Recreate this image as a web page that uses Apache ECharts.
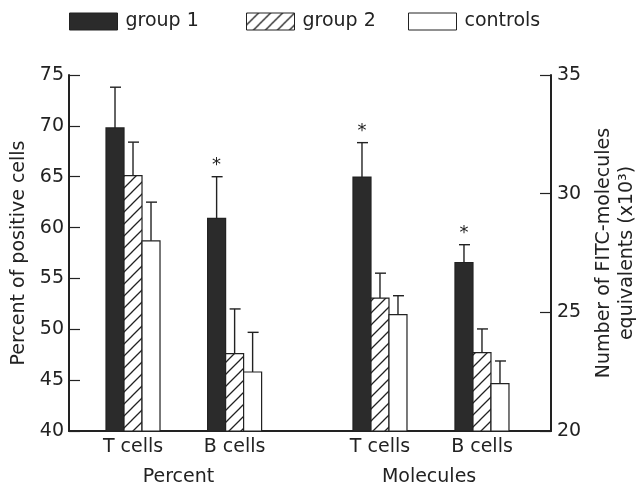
<!DOCTYPE html>
<html>
<head>
<meta charset="utf-8">
<script src="https://cdn.jsdelivr.net/npm/echarts@6/dist/echarts.min.js"></script>
<style>html,body{margin:0;padding:0;background:#fff}#c{width:638px;height:488px}</style>
</head>
<body>
<div id="c"></div>
<script>
// ---------------- data ----------------
const categories = ['T cells', 'B cells', 'T cells', 'B cells'];
const categoryPanel = [0, 0, 1, 1];            // 0 = Percent (left axis), 1 = Molecules (right axis)
const panels = ['Percent', 'Molecules'];
const groups = ['group 1', 'group 2', 'controls'];

const group1Mean = [69.8, 60.9, 30.7, 27.1];
const group1Sd   = [4.0, 4.1, 1.45, 0.75];
const group2Mean = [65.1, 47.6, 25.6, 23.3];
const group2Sd   = [3.3, 4.4, 1.05, 1.0];
const controlsMean = [58.7, 45.8, 24.9, 22.0];
const controlsSd   = [3.8, 3.9, 0.8, 0.95];
const group1Significant = [0, 1, 1, 1];
const group2Significant = [0, 0, 0, 0];
const controlsSignificant = [0, 0, 0, 0];

const leftTicks = { min: 40, max: 75, step: 5 };
const rightTicks = { min: 20, max: 35, step: 5 };

// ---------------- layout (not data) ----------------
const slotX = [13.28, 34.36, 64.52, 85.68];     // category centres on a 0..100 x scale
const panelX = [22.7, 74.7];
const BAR_W = 18;
const FONT = 'DejaVu Sans';
const INK = '#222';

function hatch() {
  const s = 12, cv = document.createElement('canvas');
  cv.width = s; cv.height = s;
  const ctx = cv.getContext('2d');
  ctx.fillStyle = '#fff'; ctx.fillRect(0, 0, s, s);
  ctx.strokeStyle = INK; ctx.lineWidth = 1.3;
  ctx.beginPath();
  ctx.moveTo(-2, s + 2); ctx.lineTo(s + 2, -2);
  ctx.moveTo(-2, 2); ctx.lineTo(2, -2);
  ctx.moveTo(s - 2, s + 2); ctx.lineTo(s + 2, s - 2);
  ctx.stroke();
  return { image: cv, repeat: 'repeat' };
}
const fills = ['#2b2b2b', hatch(), '#ffffff'];
const means = [group1Mean, group2Mean, controlsMean];
const sds = [group1Sd, group2Sd, controlsSd];
const sigs = [group1Significant, group2Significant, controlsSignificant];
const axisMins = [leftTicks.min, rightTicks.min];

const series = [];
groups.forEach((g, gi) => {
  [0, 1].forEach(p => {
    const data = [];
    categories.forEach((c, ci) => {
      if (categoryPanel[ci] === p) data.push([slotX[ci], means[gi][ci], sds[gi][ci], sigs[gi][ci]]);
    });
    series.push({
      type: 'custom',
      name: g,
      xAxisIndex: 0,
      yAxisIndex: p,
      itemStyle: { color: fills[gi], borderColor: INK, borderWidth: 1 },
      data: data,
      renderItem: function (params, api) {
        const x = api.value(0), m = api.value(1), sd = api.value(2), sig = api.value(3);
        const top = api.coord([x, m]);
        const bot = api.coord([x, axisMins[p]]);
        const err = api.coord([x, m + sd]);
        const left = top[0] + (gi - 1.5) * BAR_W;
        const cx = left + BAR_W / 2;
        const children = [
          { type: 'rect', shape: { x: left, y: top[1], width: BAR_W, height: bot[1] - top[1] },
            style: { fill: fills[gi], stroke: INK, lineWidth: 1.2 } },
          { type: 'line', shape: { x1: cx, y1: top[1], x2: cx, y2: err[1] }, style: { stroke: INK, lineWidth: 1.4 } },
          { type: 'line', shape: { x1: cx - 5, y1: err[1], x2: cx + 6, y2: err[1] }, style: { stroke: INK, lineWidth: 1.4 } }
        ];
        if (sig) {
          children.push({ type: 'text', style: { x: cx, y: err[1] - 2, text: '*', fill: INK,
            font: '18px "' + FONT + '"', align: 'center', verticalAlign: 'bottom' } });
        }
        return { type: 'group', children: children };
      }
    });
  });
});

const legendLeft = [69, 246, 408];
const legends = groups.map((g, gi) => ({
  left: legendLeft[gi], top: 12, orient: 'horizontal', padding: 0,
  icon: 'rect', itemWidth: 48, itemHeight: 17,
  textStyle: { fontFamily: FONT, fontSize: 19, color: INK, padding: [2, 0, 0, 3] },
  data: [{ name: g, itemStyle: { color: fills[gi], borderColor: INK, borderWidth: 1 } }],
  selectedMode: false
}));

const chart = echarts.init(document.getElementById('c'), null, { renderer: 'canvas' });
chart.setOption({
  animation: false,
  backgroundColor: '#fff',
  legend: legends,
  grid: { left: 69, right: 87, top: 75, bottom: 57, containLabel: false, outerBoundsMode: 'none' },
  xAxis: [
    { type: 'value', min: 0, max: 100, position: 'bottom',
      axisLine: { show: true, lineStyle: { color: INK, width: 2 } },
      axisTick: { show: false }, splitLine: { show: false },
      axisLabel: { customValues: slotX, margin: 7, fontFamily: FONT, fontSize: 19, color: INK,
        formatter: v => categories[slotX.indexOf(v)] } },
    { type: 'value', min: 0, max: 100, position: 'bottom',
      axisLine: { show: false }, axisTick: { show: false }, splitLine: { show: false },
      axisLabel: { customValues: panelX, margin: 37, fontFamily: FONT, fontSize: 19, color: INK,
        formatter: v => panels[panelX.indexOf(v)] } }
  ],
  yAxis: [
    { type: 'value', position: 'left', min: leftTicks.min, max: leftTicks.max, interval: leftTicks.step,
      axisLine: { show: true, onZero: false, lineStyle: { color: INK, width: 2 } },
      axisTick: { show: true, inside: true, length: 11, lineStyle: { color: INK, width: 1.2 } },
      splitLine: { show: false },
      axisLabel: { margin: 5, fontFamily: FONT, fontSize: 19, color: INK },
      name: 'Percent of positive cells', nameLocation: 'middle', nameRotate: 90, nameGap: 38,
      nameTextStyle: { fontFamily: FONT, fontSize: 19, color: INK } },
    { type: 'value', position: 'right', min: rightTicks.min, max: rightTicks.max, interval: rightTicks.step,
      axisLine: { show: true, onZero: false, lineStyle: { color: INK, width: 2 } },
      axisTick: { show: true, inside: true, length: 11, lineStyle: { color: INK, width: 1.2 } },
      splitLine: { show: false },
      axisLabel: { margin: 6, fontFamily: FONT, fontSize: 19, color: INK },
      name: 'Number of FITC-molecules\nequivalents (x10\u00B3)', nameLocation: 'middle', nameRotate: 90, nameGap: 31,
      nameTextStyle: { fontFamily: FONT, fontSize: 19, color: INK, lineHeight: 23, align: 'center' } }
  ],
  series: series
});
</script>
</body>
</html>
